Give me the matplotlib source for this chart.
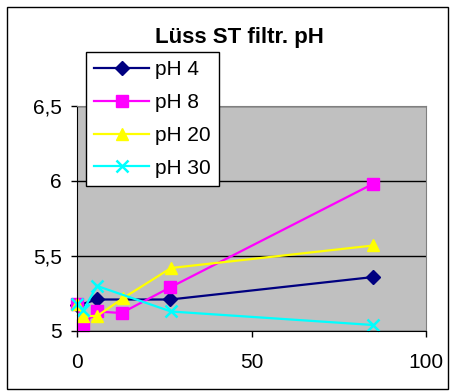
import matplotlib
matplotlib.use("Agg")
import matplotlib.pyplot as plt
from matplotlib.patches import Rectangle

plt.rcParams['font.family'] = ['Liberation Sans', 'DejaVu Sans']

title = "Lüss ST filtr. pH"
series_names = ["pH 4", "pH 8", "pH 20", "pH 30"]

x_ph4 = [0, 5.7, 26.7, 85]
y_ph4 = [5.17, 5.21, 5.21, 5.36]

x_ph8 = [0, 1.5, 5.6, 12.7, 26.6, 84.8]
y_ph8 = [5.18, 5.04, 5.13, 5.12, 5.29, 5.98]

x_ph20 = [0, 1.7, 5.7, 13.2, 26.9, 84.9]
y_ph20 = [5.18, 5.10, 5.10, 5.22, 5.42, 5.57]

x_ph30 = [0, 1.7, 5.7, 26.9, 84.9]
y_ph30 = [5.18, 5.14, 5.30, 5.13, 5.04]

x_ticks = [0, 50, 100]
y_ticks = [5, 5.5, 6, 6.5]
y_ticklabels = ["5", "5,5", "6", "6,5"]

fig = plt.figure(figsize=(4.55, 3.92), dpi=100)
fig.patch.set_facecolor("white")
fig.patches.append(Rectangle((7/455, 1-389/392), (448-7)/455, (389-7)/392,
                             transform=fig.transFigure, fill=False,
                             edgecolor="black", linewidth=1.0))

ax = fig.add_axes([77.3/455, 1-331/392, (425.7-77.3)/455, (331-106)/392])
ax.set_facecolor("#C0C0C0")

styles = [
    (x_ph4, y_ph4, "#000080", "D", 7),
    (x_ph8, y_ph8, "#FF00FF", "s", 8),
    (x_ph20, y_ph20, "#FFFF00", "^", 9),
    (x_ph30, y_ph30, "#00FFFF", "x", 9),
]
for (xs, ys, c, m, ms), name in zip(styles, series_names):
    kw = dict(markeredgewidth=1.8) if m == "x" else dict(markeredgecolor=c)
    ax.plot(xs, ys, color=c, marker=m, markersize=ms, linewidth=1.6,
            markerfacecolor=c, label=name, clip_on=False, **kw)

ax.set_xlim(0, 100)
ax.set_ylim(5, 6.5)
ax.set_xticks(x_ticks)
ax.set_yticks(y_ticks)
ax.set_yticklabels(y_ticklabels)
ax.yaxis.grid(True, color="black", linewidth=1.0)
ax.set_axisbelow(True)
ax.tick_params(axis="both", direction="out", length=4, width=1, labelsize=15,
               colors="black")
ax.tick_params(axis="y", pad=7)
ax.tick_params(axis="x", pad=12)
for s in ["left", "bottom"]:
    ax.spines[s].set_color("black")
for s in ["top", "right"]:
    ax.spines[s].set_color("#808080")

fig.text(239/455, 1-37/392, title, ha="center", va="center",
         fontsize=16, fontweight="bold")

leg = fig.legend(loc="upper left", bbox_to_anchor=(86/455, 1-52/392),
                 bbox_transform=fig.transFigure, fontsize=15,
                 frameon=True, fancybox=False, edgecolor="black",
                 framealpha=1, handlelength=2.64, labelspacing=0.66,
                 borderpad=0.4, handletextpad=0.25, borderaxespad=0)
leg.get_frame().set_linewidth(1.0)

fig.savefig("out.png", dpi=100)
